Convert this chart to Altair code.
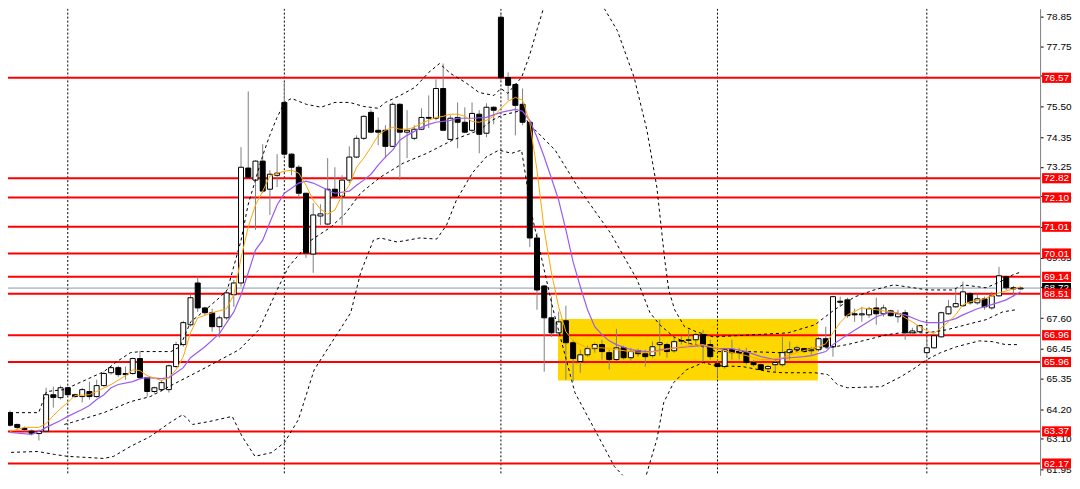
import altair as alt
import pandas as pd

# ---------------- data ----------------
opens = [64.07, 63.63, 63.48, 63.38, 63.29, 63.38, 64.74, 64.63, 65.00, 64.74,
         64.67, 64.86, 64.67, 65.08, 65.56, 65.75, 65.53, 65.53, 66.09, 65.38,
         64.86, 64.93, 64.93, 65.79, 66.61, 67.35, 68.91, 67.98, 67.80, 67.28,
         67.61, 68.47, 68.91, 73.20, 72.75, 73.46, 72.41, 72.93, 75.65, 73.72,
         73.23, 72.26, 69.99, 71.41, 71.11, 72.41, 72.15, 72.75, 73.61, 74.31,
         75.28, 74.61, 74.61, 74.01, 75.58, 74.54, 74.31, 74.65, 75.09, 75.06,
         76.17, 74.27, 75.09, 74.91, 74.61, 75.21, 74.50, 75.47, 78.83, 76.58,
         76.32, 75.58, 74.91, 70.59, 68.80, 67.61, 67.05, 67.50, 66.68, 65.98,
         66.23, 66.46, 66.61, 66.31, 66.05, 66.49, 66.12, 66.38, 66.27, 66.20,
         66.61, 66.61, 66.38, 66.76, 66.77, 66.79, 66.98, 66.61, 65.90, 65.79,
         66.42, 66.32, 66.31, 65.94, 65.86, 65.71, 65.86, 65.86, 66.31, 66.42,
         66.46, 66.38, 66.42, 66.83, 66.53, 68.23, 68.28, 67.76, 67.72, 67.72,
         67.98, 67.76, 67.87, 67.65, 67.80, 67.05, 67.09, 66.31, 66.49, 66.90,
         67.76, 68.02, 68.06, 68.51, 68.17, 68.32, 67.98, 68.43, 69.14, 68.73,
         68.69]
highs = [64.15, 63.66, 63.55, 63.44, 63.44, 65.00, 65.04, 65.08, 65.04, 64.78,
         65.00, 65.23, 65.30, 65.60, 65.79, 65.82, 65.79, 66.12, 66.38, 65.41,
         65.04, 65.27, 65.86, 66.72, 67.50, 68.47, 69.14, 68.02, 67.95, 67.69,
         68.65, 69.03, 73.98, 76.06, 73.49, 74.09, 73.12, 73.72, 76.40, 73.75,
         73.31, 72.26, 71.89, 71.85, 73.57, 73.23, 72.93, 74.01, 74.42, 75.17,
         75.39, 75.09, 74.80, 75.65, 75.62, 75.36, 74.80, 75.43, 75.91, 76.51,
         77.10, 75.17, 75.65, 75.47, 75.65, 75.36, 75.62, 75.50, 79.01, 76.77,
         76.36, 76.17, 74.98, 70.78, 68.84, 68.40, 67.84, 68.06, 66.79, 66.42,
         66.57, 66.68, 66.79, 66.42, 67.20, 66.57, 66.49, 66.46, 66.42, 66.72,
         67.54, 66.68, 66.87, 66.94, 67.16, 67.05, 67.16, 66.79, 66.05, 66.49,
         66.79, 66.49, 66.49, 66.05, 65.90, 65.86, 66.05, 66.90, 66.72, 66.57,
         66.49, 66.53, 66.90, 67.28, 68.43, 68.40, 68.36, 67.95, 68.02, 68.02,
         68.36, 68.10, 67.91, 67.91, 67.91, 67.24, 67.35, 66.87, 66.98, 67.84,
         68.28, 68.69, 68.96, 68.58, 68.47, 68.40, 68.58, 69.51, 69.18, 68.80,
         68.77]
lows = [63.55, 63.44, 63.37, 63.22, 63.03, 63.37, 64.26, 64.56, 64.71, 64.63,
        64.45, 64.56, 64.63, 65.04, 65.49, 65.41, 65.30, 65.49, 65.30, 64.67,
        64.78, 64.86, 64.82, 65.75, 66.53, 67.28, 67.83, 67.72, 67.09, 66.87,
        67.54, 68.02, 68.77, 72.82, 70.89, 72.26, 71.45, 72.49, 73.61, 72.93,
        72.04, 69.84, 69.29, 71.07, 71.07, 72.12, 71.07, 72.64, 73.57, 74.24,
        74.50, 74.05, 73.57, 73.98, 72.75, 73.57, 74.24, 74.61, 74.69, 74.98,
        74.61, 74.24, 73.94, 74.50, 74.54, 73.75, 74.35, 74.83, 76.47, 75.73,
        74.42, 74.80, 70.25, 67.91, 65.60, 66.90, 66.90, 65.30, 65.23, 65.56,
        66.16, 66.31, 66.05, 65.68, 65.98, 66.05, 65.98, 66.16, 65.79, 66.12,
        66.20, 66.12, 66.31, 66.61, 66.61, 66.61, 65.97, 66.05, 65.41, 65.71,
        66.05, 66.05, 65.86, 65.79, 65.64, 65.60, 65.60, 65.79, 66.05, 66.35,
        66.31, 66.23, 66.35, 66.49, 66.16, 68.02, 67.61, 67.46, 67.46, 67.61,
        67.35, 67.65, 67.65, 67.43, 66.79, 67.02, 67.05, 66.12, 66.46, 66.87,
        67.72, 67.98, 68.02, 68.10, 68.10, 67.91, 67.91, 68.40, 68.65, 68.40,
        68.65]
closes = [63.60, 63.52, 63.44, 63.29, 63.37, 64.74, 64.64, 65.00, 64.74, 64.67,
          64.93, 64.67, 65.08, 65.53, 65.75, 65.49, 65.49, 66.09, 65.38, 64.86,
          65.00, 65.19, 65.82, 66.61, 67.43, 68.36, 67.98, 67.80, 67.28, 67.61,
          68.54, 68.91, 73.23, 72.86, 73.46, 72.34, 72.97, 73.01, 73.72, 73.23,
          72.26, 70.03, 71.45, 71.49, 72.41, 72.15, 72.75, 73.61, 74.31, 75.13,
          74.54, 74.54, 74.01, 75.58, 74.54, 74.61, 74.65, 75.09, 75.06, 76.17,
          74.61, 75.06, 74.91, 74.54, 75.24, 74.46, 75.47, 75.36, 76.57, 76.29,
          75.54, 74.91, 70.59, 68.65, 67.61, 67.05, 67.46, 66.68, 66.09, 66.23,
          66.46, 66.61, 66.35, 66.05, 66.49, 66.12, 66.35, 66.27, 66.16, 66.53,
          66.68, 66.35, 66.72, 66.74, 66.79, 66.98, 66.61, 66.16, 65.79, 66.42,
          66.31, 66.29, 65.94, 65.86, 65.68, 65.79, 65.94, 66.31, 66.42, 66.49,
          66.35, 66.42, 66.83, 66.53, 68.40, 68.19, 67.69, 67.72, 67.76, 67.95,
          67.76, 67.98, 67.69, 67.76, 67.05, 67.12, 67.32, 66.49, 66.94, 67.80,
          68.02, 68.14, 68.58, 68.17, 68.32, 68.02, 68.43, 69.18, 68.73, 68.69,
          68.72]

# fast moving average (orange), read at bar positions
fast_bar = [0, 2, 4, 5, 6, 7, 8, 9, 11, 12, 14, 16, 17, 18, 19, 21, 22, 23, 24, 25,
            26, 28, 30, 31, 32, 33, 34, 35, 36, 37, 38, 39, 40, 41, 42, 43, 44, 45, 46, 47,
            48, 49, 50, 51, 52, 53, 54, 55, 56, 57, 58, 59, 60, 61, 62, 63, 64, 65, 66, 67,
            68, 69, 70, 71, 72, 73, 74, 75, 76, 77, 78, 79, 80, 82, 84, 86, 88, 90, 92, 94,
            96, 98, 100, 102, 104, 105, 107, 109, 111, 112, 113, 114, 115, 116, 118, 120, 122, 123, 124, 125,
            126, 127, 128, 129, 130, 131, 132, 133, 135, 137, 139, 140]
fast_val = [63.37, 63.52, 63.52, 63.66, 63.96, 64.22, 64.45, 64.71, 64.74, 64.86, 65.12, 65.45, 65.67, 65.64, 65.45, 65.27, 65.38, 65.67, 66.16, 67.05,
            67.61, 67.80, 67.95, 68.47, 69.84, 71.00, 71.82, 72.34, 72.90, 73.01, 73.08, 73.12, 73.01, 72.56, 72.00, 71.67, 71.48, 71.63, 72.19, 72.56,
            73.23, 73.57, 73.98, 74.42, 74.61, 74.72, 74.65, 74.65, 74.72, 74.87, 74.98, 75.09, 75.13, 75.21, 75.21, 75.13, 74.94, 74.91, 74.98, 75.13,
            75.43, 75.69, 75.84, 75.73, 74.91, 73.12, 70.89, 69.29, 68.02, 67.09, 66.75, 66.61, 66.49, 66.49, 66.42, 66.35, 66.31, 66.38, 66.49, 66.57,
            66.61, 66.46, 66.31, 66.20, 66.05, 66.05, 66.12, 66.31, 66.46, 66.53, 66.64, 67.05, 67.43, 67.72, 67.98, 67.91, 67.83, 67.80, 67.61, 67.46,
            67.28, 67.13, 67.02, 67.24, 67.46, 67.72, 68.10, 68.21, 68.32, 68.54, 68.69, 68.77]

# slow moving average (purple)
slow_bar = [0, 3, 4, 5, 7, 8, 10, 11, 12, 13, 14, 15, 17, 18, 19, 21, 22, 23, 24, 25,
            27, 29, 31, 32, 33, 34, 35, 36, 37, 38, 39, 40, 41, 42, 44, 45, 47, 48, 49, 50,
            51, 52, 53, 54, 55, 56, 57, 58, 59, 61, 62, 64, 66, 68, 70, 71, 72, 73, 74, 75,
            76, 77, 78, 79, 80, 81, 82, 83, 84, 86, 88, 89, 91, 94, 96, 98, 100, 102, 104, 106,
            108, 110, 111, 113, 114, 116, 118, 120, 122, 124, 126, 127, 129, 131, 132, 134, 136, 138, 140]
slow_val = [63.33, 63.26, 63.37, 63.52, 63.78, 63.93, 64.19, 64.34, 64.56, 64.74, 65.00, 65.12, 65.23, 65.34, 65.38, 65.34, 65.38, 65.56, 65.75, 66.12,
            66.53, 67.02, 67.83, 68.47, 69.29, 70.14, 70.51, 71.18, 71.82, 72.26, 72.45, 72.64, 72.71, 72.64, 72.38, 72.26, 72.34, 72.56, 72.75, 72.97,
            73.31, 73.61, 73.87, 74.24, 74.42, 74.57, 74.72, 74.83, 74.91, 74.98, 75.06, 75.06, 75.09, 75.28, 75.39, 75.32, 74.98, 74.35, 73.61, 72.82,
            72.00, 70.89, 69.70, 68.77, 67.91, 67.28, 66.98, 66.75, 66.61, 66.42, 66.35, 66.35, 66.46, 66.53, 66.57, 66.46, 66.46, 66.35, 66.16, 66.05,
            66.12, 66.16, 66.20, 66.35, 66.61, 66.98, 67.31, 67.65, 67.83, 67.72, 67.50, 67.43, 67.43, 67.58, 67.72, 67.95, 68.10, 68.28, 68.58]

# upper band (dashed)
upper_bar = [0, 3.97, 5.06, 7.52, 13.0, 14.77, 16.69, 18.06, 22.3, 23.53, 25.03, 27.09, 29.0, 30.1, 31.05, 32.01, 32.97, 34.06, 35.02, 35.98,
             36.94, 38.03, 38.99, 41.04, 43.09, 45.01, 47.06, 48.97, 51.03, 51.98, 54.04, 56.09, 58.0, 59.5, 61.01, 63.06, 64.98, 67.03, 67.99, 68.95,
             69.9, 70.86, 71.96, 73.05, 74.01, 74.97, 76.6, 78.66, 80.71, 81.67, 84.13, 86.46, 88.23, 89.6, 90.7, 91.25, 92.07, 93.43, 95.07, 97.4,
             103.3, 107.8, 111.5, 114.2, 117.0, 119.7, 122.4, 125.2, 127.0, 130.6, 132.0, 135.2, 137.1, 138.9, 140.0]
upper_val = [64.07, 64.07, 64.86, 64.93, 65.60, 65.97, 66.31, 66.35, 66.35, 66.53, 67.46, 67.91, 68.36, 68.65, 69.58, 70.51, 71.82, 72.82, 73.68, 74.42,
             75.06, 75.65, 75.80, 75.58, 75.47, 75.65, 75.65, 75.50, 75.43, 75.65, 75.91, 76.21, 76.77, 77.10, 76.73, 76.40, 76.02, 75.91, 76.17, 75.99,
             76.29, 76.58, 77.40, 78.41, 79.26, 80.01, 80.94, 81.13, 80.19, 79.45, 78.33, 76.58, 74.61, 72.49, 69.77, 68.65, 67.91, 67.28, 67.09, 66.90,
             66.98, 67.05, 67.35, 67.91, 68.39, 68.65, 68.84, 68.73, 68.65, 68.65, 68.84, 68.73, 68.95, 69.21, 69.32]

# inner lower band (dashed)
inner_bar = [7.52, 8.48, 13.0, 16.69, 19.43, 22.57, 27.09, 31.74, 34.47, 37.21, 38.58, 41.72, 44.46, 46.51, 48.56, 51.3, 54.45, 57.73, 61.29, 64.98,
             66.76, 68.13, 70.86, 71.82, 75.51, 78.66, 83.17, 86.87, 88.65, 90.01, 91.93, 93.7, 96.03, 97.81, 102.3, 106.4, 108.3, 111.5, 113.3, 116.0,
             118.7, 121.5, 123.4, 127.0, 129.7, 132.4, 135.2, 137.5, 139.3]
inner_val = [63.63, 63.70, 64.07, 64.48, 64.67, 65.12, 65.75, 66.42, 67.16, 68.77, 69.51, 70.51, 71.00, 71.52, 72.26, 72.86, 73.38, 73.75, 74.24, 74.61,
             74.98, 75.17, 75.35, 74.87, 73.87, 72.49, 70.78, 69.03, 67.80, 67.35, 66.90, 66.68, 66.53, 66.35, 66.35, 66.31, 66.35, 66.49, 66.49, 66.61,
             66.79, 66.98, 67.05, 67.05, 67.16, 67.35, 67.54, 67.83, 67.91]

# outer lower band (dashed)
lower_bar = [-0.68, 3.83, 6.16, 7.93, 13.0, 14.36, 16.69, 19.43, 22.16, 23.94, 25.31, 27.63, 30.78, 32.15, 33.93, 36.25, 38.03, 39.95, 42.13, 45.42,
             47.2, 48.56, 50.34, 51.3, 53.63, 56.77, 59.1, 60.47, 61.83, 64.02, 65.94, 67.72, 69.49, 70.86, 72.23, 75.24, 78.25, 80.99, 83.72, 86.46,
             87.14, 87.96, 88.65, 89.6, 90.56, 91.93, 93.7, 96.03, 97.81, 101.5, 105.1, 107.0, 111.5, 113.3, 114.6, 116.0, 120.7, 123.4, 125.2, 127.0,
             128.9, 131.1, 134.3, 136.1, 137.9, 139.8]
lower_val = [62.58, 62.62, 62.51, 62.44, 62.36, 62.44, 62.81, 63.18, 63.70, 64.00, 63.63, 63.74, 63.93, 63.18, 62.44, 62.58, 62.96, 63.81, 65.67, 67.05,
             67.80, 69.29, 70.51, 70.59, 70.44, 70.59, 70.55, 71.07, 72.00, 73.01, 73.61, 73.87, 73.75, 73.87, 71.52, 67.91, 64.82, 63.44, 62.06, 61.28,
             61.02, 61.58, 62.21, 63.07, 64.45, 65.19, 65.67, 65.94, 65.82, 65.79, 65.60, 65.56, 65.56, 65.49, 65.12, 65.00, 65.04, 65.41, 65.71, 66.05,
             66.31, 66.53, 66.75, 66.72, 66.61, 66.61]

levels = [76.57, 72.82, 72.10, 71.01, 70.01, 69.14, 68.51, 66.96, 65.96, 63.37, 62.17]
current_price = [68.72]
grid_bars = [8, 38, 68, 98, 127]
tick_values = [78.85, 77.75, 76.65, 75.50, 74.35, 73.25, 72.15, 71.00, 69.85,
               68.75, 67.60, 66.45, 65.35, 64.20, 63.10, 61.95]
zone_bar = [75.9, 111.9]
zone_price = [67.57, 65.27]

# ---------------- chart ----------------
W, H = 1035, 468
xs = alt.Scale(domain=[0.41, 142.0], nice=False, zero=False)
ys = alt.Scale(domain=[61.73, 79.15], nice=False, zero=False)
yaxis = alt.Axis(orient="right", values=tick_values, format=".2f", title=None,
                 labelFont="Liberation Sans", labelFontSize=10, labelColor="#000000",
                 tickColor="#000000", tickSize=3, domainColor="#808080", grid=False,
                 labelPadding=3, labelOverlap=False, labelBound=False, labelFlush=False)


def X(f):
    return alt.X(f, type="quantitative", scale=xs, axis=None)


def Y(f):
    return alt.Y(f, type="quantitative", scale=ys, axis=yaxis)


candles = pd.DataFrame({"bar": list(range(len(opens))), "open": opens, "high": highs,
                        "low": lows, "close": closes})

zone = alt.Chart(pd.DataFrame({"b0": [zone_bar[0]], "b1": [zone_bar[1]],
                               "p0": [zone_price[0]], "p1": [zone_price[1]]})).mark_rect(
    color="#FFD700", clip=True).encode(x=X("b0"), x2="b1", y=Y("p0"), y2="p1")

grid = alt.Chart(pd.DataFrame({"bar": grid_bars})).mark_rule(
    color="#000000", strokeDash=[2, 2], strokeWidth=1, clip=True).encode(x=X("bar"))

lvl_df = pd.DataFrame({"level": levels})
red_lines = alt.Chart(lvl_df).mark_rule(color="#ff0000", strokeWidth=2, clip=True).encode(y=Y("level"))

cur_df = pd.DataFrame({"level": current_price})
cur_line = alt.Chart(cur_df).mark_rule(color="#8899aa", strokeWidth=1, clip=True).encode(y=Y("level"))

band_rows = []
for name, bars, vals in [("upper", upper_bar, upper_val), ("inner", inner_bar, inner_val),
                         ("lower", lower_bar, lower_val)]:
    for k, (b, v) in enumerate(zip(bars, vals)):
        band_rows.append({"band": name, "seq": k, "bar": b, "price": v})
bands = alt.Chart(pd.DataFrame(band_rows)).mark_line(
    color="#000000", strokeDash=[3, 3], strokeWidth=1, clip=True).encode(
    x=X("bar"), y=Y("price"), detail="band:N", order="seq:Q")

wicks = alt.Chart(candles).mark_rule(color="#808080", strokeWidth=1, clip=True).encode(
    x=X("bar"), y=Y("low"), y2="high")
bodies = alt.Chart(candles).mark_bar(size=5, stroke="#000000", strokeWidth=1, clip=True).encode(
    x=X("bar"), y=Y("open"), y2="close",
    fill=alt.condition("datum.close >= datum.open", alt.value("#ffffff"), alt.value("#000000")))

fast = alt.Chart(pd.DataFrame({"bar": fast_bar, "v": fast_val})).mark_line(
    color="#ffa500", strokeWidth=1, clip=True).encode(x=X("bar"), y=Y("v"))
slow = alt.Chart(pd.DataFrame({"bar": slow_bar, "v": slow_val})).mark_line(
    color="#9a5cf0", strokeWidth=1.2, clip=True).encode(x=X("bar"), y=Y("v"))

cur_box = alt.Chart(cur_df).transform_calculate(
    top="datum.level + 0.19", bot="datum.level - 0.19").mark_rect(color="#000000", clip=False).encode(
    x=alt.value(W + 2), x2=alt.value(W + 31), y=Y("top"), y2="bot")
cur_txt = alt.Chart(cur_df).mark_text(color="#ffffff", fontSize=10, font="Liberation Sans",
                                      align="center", baseline="middle", clip=False).encode(
    x=alt.value(W + 16.5), y=Y("level"), text=alt.Text("level:Q", format=".2f"))

lvl_box = alt.Chart(lvl_df).transform_calculate(
    top="datum.level + 0.19", bot="datum.level - 0.19").mark_rect(color="#ff0000", clip=False).encode(
    x=alt.value(W + 2), x2=alt.value(W + 31), y=Y("top"), y2="bot")
lvl_txt = alt.Chart(lvl_df).mark_text(color="#ffffff", fontSize=10, font="Liberation Sans",
                                      align="center", baseline="middle", clip=False).encode(
    x=alt.value(W + 16.5), y=Y("level"), text=alt.Text("level:Q", format=".2f"))

chart = alt.layer(zone, grid, red_lines, cur_line, wicks, bodies, bands, slow, fast,
                  cur_box, cur_txt, lvl_box, lvl_txt).properties(
    width=W, height=H, padding=0, background="#ffffff").configure_view(stroke=None)

chart.save("out.html", embed_options={"renderer": "svg", "actions": False})
